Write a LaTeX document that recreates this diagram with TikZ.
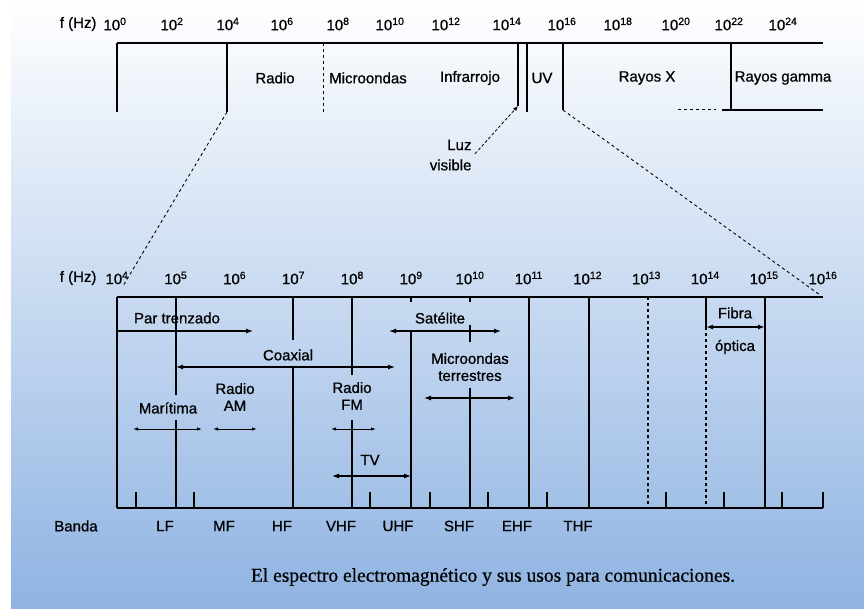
\documentclass[tikz,border=0pt]{standalone}
\usepackage{fontspec}
\setmainfont{Liberation Serif}[FakeBold=0.6]
\setsansfont{Liberation Sans}[FakeBold=0.8]
\usetikzlibrary{arrows.meta}
\definecolor{fondo}{RGB}{143,179,226}
\tikzset{
  linea/.style={line width=1.2pt},
  gruesa/.style={line width=2.6pt},
  rango/.style={line width=1.2pt,{Latex[length=7pt,width=5pt]}-{Latex[length=7pt,width=5pt]}},
  rangochico/.style={line width=0.9pt,{Latex[length=5pt,width=3.5pt]}-{Latex[length=5pt,width=3.5pt]}}
}
\begin{document}
\begin{tikzpicture}[x=1pt,y=-1pt,font=\sffamily\fontsize{15}{17}\selectfont]
\useasboundingbox (0,0) rectangle (864,609);
\shade[top color=white,bottom color=fondo] (11,0) rectangle (864,609);

% espectro completo
\node[anchor=east] (fz1) at (100,24) {f (Hz)};
\foreach \e/\x in {0/115,2/172,4/228,6/282,8/338,10/390,12/446,14/507,16/562,18/618,20/676,22/729,24/783}
  \node at (\x,24) {10\textsuperscript{\e}};

\draw[linea] (117,43) -- (823,43);
\draw[gruesa] (117,43) -- (117,112);
\draw[linea] (227,43) -- (227,112) coordinate (a4);
\draw[line width=1pt,dashed] (323,43) -- (323,112);
\draw[linea] (518,43) -- (518,106) coordinate (vis);
\draw[gruesa] (527,43) -- (527,112);
\draw[linea] (563,43) -- (563,110) coordinate (a16);
\draw[linea] (731,43) -- (731,110);
\draw[linea] (722,110) -- (823,110);
\draw[line width=1pt,dash pattern=on 3pt off 3pt] (678,110) -- (716,110);

\node at (275,78) {Radio};
\node at (368,78) {Microondas};
\node at (470,78) {Infrarrojo};
\node at (542,78) {UV};
\node at (647,78) {Rayos X};
\node at (783,78) {Rayos gamma};
\node[anchor=east] (luz) at (475,145) {Luz};
\node[anchor=east] (visible) at (475,165) {visible};
\draw[line width=0.8pt,densely dashed,-{Latex[length=5pt,width=4pt]}] (luz.south east) -- (vis);

% ampliacion de la parte usada en comunicaciones
\coordinate (b4) at (123,286);
\coordinate (b16) at (820,295);
\draw[line width=0.9pt,dashed] (a4) -- (b4);
\draw[line width=0.9pt,dashed] (a16) -- (b16);

\node[anchor=east] (fz2) at (100,278) {f (Hz)};
\foreach \e in {4,...,16}
  \node at ({117+58.83*(\e-4)},278) {10\textsuperscript{\e}};

\draw[linea] (117,297) -- (823,297);
\draw[linea] (117,508) -- (823,508);
\draw[gruesa] (117,297) -- (117,508);
\draw[linea] (176,297) -- (176,395) (176,420) -- (176,508);
\draw[linea] (293,297) -- (293,340) (293,367) -- (293,508);
\draw[gruesa] (352,297) -- (352,375) (352,420) -- (352,508);
\draw[linea] (411,297) -- (411,302) (411,330) -- (411,508);
\draw[linea] (470,297) -- (470,302) (470,325) -- (470,342) (470,388) -- (470,508);
\draw[linea] (529,297) -- (529,508);
\draw[linea] (589,297) -- (589,508);
\draw[linea,dashed] (648,297) -- (648,508);
\draw[linea] (706,297) -- (706,327);
\draw[linea,dashed] (706,327) -- (706,508);
\draw[linea] (765,297) -- (765,508);
\foreach \x in {136,194,370,430,488,547,666,724,782,823}
  \draw[linea] (\x,492) -- (\x,508);

\node at (177,318) {Par trenzado};
\draw[line width=1.2pt,-{Latex[length=7pt,width=5pt]}] (117,331) -- (253,331);
\node at (288,355) {Coaxial};
\draw[rango] (176,367) -- (395,367);
\node at (168,408) {Marítima};
\draw[rangochico] (133,429) -- (202,429);
\node[align=center] at (235,397) {Radio\\AM};
\draw[rangochico] (213,429) -- (257,429);
\node[align=center] at (352,396) {Radio\\FM};
\draw[rangochico] (331,429) -- (376,429);
\node at (370,460) {TV};
\draw[rango] (332,476) -- (411,476);
\node at (440,318) {Satélite};
\draw[rango] (389,331) -- (501,331);
\node[align=center] at (470,367) {Microondas\\terrestres};
\draw[rango] (424,398) -- (515,398);
\node at (735,313) {Fibra};
\draw[rango,line width=1.8pt] (706,327) -- (765,327);
\node at (735,347) {óptica};

% bandas
\node at (76,526) {Banda};
\foreach \b/\x in {LF/165,MF/224,HF/282,VHF/341,UHF/398,SHF/459,EHF/517,THF/578}
  \node at (\x,526) {\b};

\node[font=\rmfamily\fontsize{19.5}{22}\selectfont] at (493,577) {El espectro electromagnético y sus usos para comunicaciones.};
\end{tikzpicture}
\end{document}
